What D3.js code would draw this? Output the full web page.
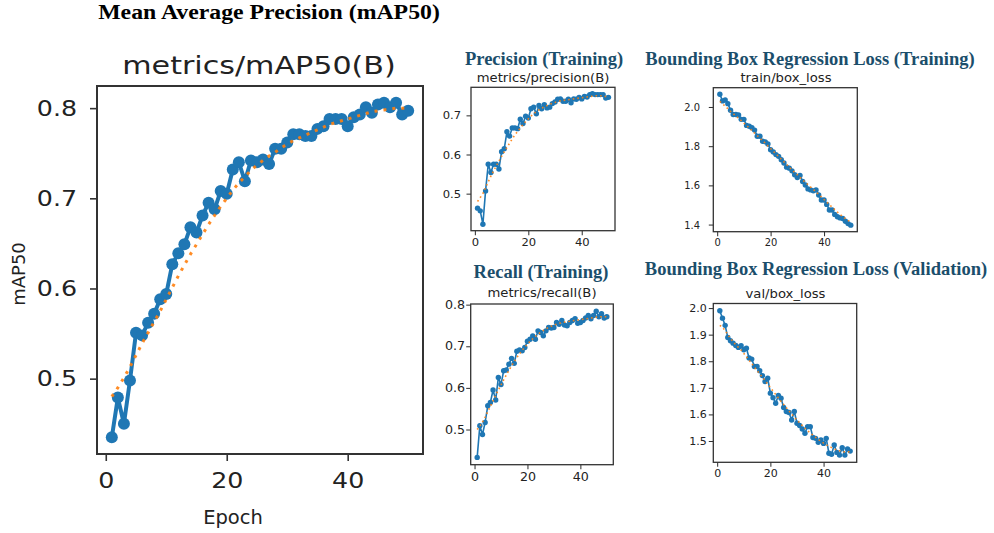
<!DOCTYPE html>
<html><head><meta charset="utf-8">
<script src="https://cdn.jsdelivr.net/npm/d3@7"></script>
<style>html,body{margin:0;padding:0;background:#fff;} svg{display:block;}</style>
</head><body>
<svg id="c" width="994" height="533"></svg>
<script>
// ---------------- DATA ----------------
const epochs = [1,2,3,4,5,6,7,8,9,10,11,12,13,14,15,16,17,18,19,20,21,22,23,24,25,26,27,28,29,30,31,32,33,34,35,36,37,38,39,40,41,42,43,44,45,46,47,48,49,50];

const mapValues = [0.435,0.479,0.450,0.498,0.551,0.548,0.562,0.572,0.588,0.594,0.627,0.639,0.649,0.668,0.662,0.681,0.695,0.688,0.708,0.705,0.732,0.740,0.719,0.742,0.740,0.743,0.738,0.755,0.755,0.762,0.771,0.771,0.769,0.769,0.777,0.780,0.788,0.788,0.788,0.780,0.790,0.793,0.801,0.795,0.804,0.806,0.801,0.806,0.793,0.797];
const mapSmooth = [0.480,0.490,0.501,0.513,0.526,0.539,0.551,0.563,0.575,0.588,0.601,0.614,0.626,0.638,0.649,0.660,0.671,0.681,0.691,0.700,0.709,0.717,0.724,0.731,0.737,0.742,0.747,0.751,0.756,0.760,0.764,0.767,0.770,0.773,0.776,0.779,0.782,0.784,0.786,0.788,0.790,0.792,0.794,0.796,0.797,0.798,0.799,0.800,0.800,0.800];

const precisionValues = [0.463,0.456,0.422,0.507,0.575,0.554,0.575,0.575,0.563,0.607,0.615,0.658,0.647,0.668,0.668,0.666,0.690,0.679,0.698,0.693,0.717,0.721,0.704,0.725,0.717,0.727,0.719,0.721,0.730,0.734,0.741,0.742,0.736,0.736,0.741,0.732,0.742,0.741,0.746,0.742,0.748,0.747,0.753,0.755,0.753,0.753,0.753,0.753,0.744,0.746];
const precisionSmooth = [0.480,0.490,0.500,0.515,0.530,0.545,0.558,0.571,0.583,0.595,0.607,0.618,0.629,0.640,0.650,0.659,0.668,0.676,0.684,0.691,0.698,0.704,0.709,0.714,0.718,0.722,0.725,0.728,0.731,0.733,0.735,0.737,0.738,0.739,0.740,0.741,0.742,0.743,0.744,0.745,0.746,0.747,0.748,0.749,0.750,0.750,0.750,0.749,0.748,0.747];

const recallValues = [0.433,0.509,0.488,0.517,0.557,0.565,0.595,0.571,0.625,0.608,0.641,0.643,0.657,0.671,0.659,0.688,0.691,0.689,0.697,0.712,0.717,0.725,0.717,0.737,0.733,0.725,0.737,0.745,0.744,0.745,0.757,0.753,0.762,0.751,0.749,0.757,0.762,0.766,0.755,0.757,0.762,0.768,0.774,0.766,0.774,0.784,0.771,0.778,0.768,0.771];
const recallSmooth = [0.500,0.508,0.518,0.530,0.543,0.556,0.569,0.582,0.595,0.607,0.619,0.631,0.642,0.653,0.663,0.673,0.682,0.690,0.698,0.705,0.712,0.718,0.724,0.729,0.734,0.738,0.742,0.745,0.748,0.751,0.753,0.755,0.757,0.758,0.759,0.760,0.761,0.762,0.763,0.764,0.765,0.766,0.767,0.768,0.769,0.770,0.771,0.771,0.771,0.771];

const trainBoxValues = [2.065,2.031,2.036,2.017,1.983,1.962,1.962,1.959,1.937,1.937,1.906,1.902,1.894,1.882,1.851,1.851,1.825,1.822,1.811,1.782,1.770,1.757,1.748,1.731,1.714,1.693,1.688,1.674,1.654,1.640,1.650,1.620,1.602,1.582,1.577,1.572,1.577,1.551,1.525,1.525,1.503,1.474,1.474,1.452,1.440,1.434,1.431,1.417,1.405,1.397];
const trainBoxSmooth = [2.028,2.017,2.004,1.991,1.978,1.966,1.954,1.942,1.930,1.918,1.906,1.893,1.880,1.867,1.854,1.841,1.828,1.815,1.801,1.788,1.774,1.760,1.747,1.733,1.720,1.706,1.692,1.679,1.666,1.654,1.641,1.628,1.615,1.603,1.591,1.579,1.567,1.554,1.541,1.528,1.515,1.502,1.489,1.476,1.464,1.452,1.441,1.430,1.421,1.414];

const valBoxValues = [1.990,1.962,1.935,1.889,1.877,1.868,1.859,1.852,1.858,1.843,1.849,1.812,1.808,1.780,1.780,1.764,1.746,1.724,1.736,1.680,1.663,1.642,1.671,1.661,1.626,1.611,1.607,1.579,1.611,1.567,1.558,1.545,1.529,1.554,1.554,1.513,1.510,1.495,1.504,1.491,1.510,1.454,1.450,1.485,1.457,1.447,1.475,1.447,1.470,1.462];
const valBoxSmooth = [1.935,1.928,1.915,1.900,1.886,1.873,1.862,1.852,1.842,1.830,1.817,1.804,1.791,1.778,1.765,1.752,1.740,1.727,1.714,1.701,1.688,1.675,1.662,1.649,1.637,1.625,1.613,1.601,1.590,1.579,1.568,1.558,1.548,1.539,1.530,1.522,1.514,1.506,1.499,1.492,1.486,1.480,1.475,1.470,1.466,1.463,1.460,1.459,1.459,1.460];

const xTickValues = [0, 20, 40];
const mapYTicks = [0.5, 0.6, 0.7, 0.8];
const precisionYTicks = [0.5, 0.6, 0.7];
const recallYTicks = [0.5, 0.6, 0.7, 0.8];
const trainBoxYTicks = [1.4, 1.6, 1.8, 2.0];
const valBoxYTicks = [1.5, 1.6, 1.7, 1.8, 1.9, 2.0];

// ---------------- DRAWING ----------------
const BLUE = '#1f77b4', ORANGE = '#ff7f0e', TEAL = '#1b4e6b';
const SANS = '"DejaVu Sans", Verdana, sans-serif';
const SERIF = '"Liberation Serif", "Times New Roman", serif';
const svg = d3.select('#c');

function stretchedText(x, y, str, o) {
  const g = svg.append('g').attr('transform', `translate(${x},${y}) scale(${o.sx || 1},1)`);
  g.append('text').text(str)
    .attr('text-anchor', o.anchor || 'middle')
    .attr('font-family', o.family || SANS)
    .attr('font-size', o.size)
    .attr('font-weight', o.weight || 'normal')
    .attr('fill', o.fill || '#222');
}

function padded(lo, hi) { const p = (hi - lo) * 0.05; return [lo - p, hi + p]; }

function drawPanel(c) {
  const x = d3.scaleLinear().domain(padded(d3.min(epochs), d3.max(epochs))).range([c.box.l, c.box.r]);
  const all = c.values.concat(c.smooth);
  const y = d3.scaleLinear().domain(padded(d3.min(all), d3.max(all))).range([c.box.b, c.box.t]);
  const g = svg.append('g');

  const ya = g.append('g').attr('transform', `translate(${c.box.l},0)`)
    .call(d3.axisLeft(y).tickValues(c.yTicks).tickSize(c.tickSize).tickFormat(d3.format('.1f')));
  const xa = g.append('g').attr('transform', `translate(0,${c.box.b})`)
    .call(d3.axisBottom(x).tickValues(xTickValues).tickSize(c.tickSize).tickFormat(d3.format('d')));
  [ya, xa].forEach(a => {
    a.select('.domain').remove();
    a.selectAll('.tick line').attr('stroke', '#333').attr('stroke-width', c.frameW * 0.8);
    a.selectAll('.tick text').attr('font-family', SANS).attr('font-size', c.tickFont)
      .attr('fill', '#222').attr('transform', `scale(${c.tickScale},1)`);
  });
  ya.selectAll('.tick text').attr('x', c.yLabelDx / c.tickScale);
  xa.selectAll('.tick text').attr('y', c.xLabelDy).attr('dy', 0);

  g.append('rect').attr('x', c.box.l).attr('y', c.box.t)
    .attr('width', c.box.r - c.box.l).attr('height', c.box.b - c.box.t)
    .attr('fill', 'none').attr('stroke', '#333').attr('stroke-width', c.frameW);

  const line = d3.line().x((d, i) => x(epochs[i])).y(d => y(d));
  g.append('path').datum(c.values).attr('d', line)
    .attr('fill', 'none').attr('stroke', BLUE).attr('stroke-width', c.lineW).attr('stroke-linejoin', 'round');
  g.selectAll('circle.pt').data(c.values).join('circle').attr('class', 'pt')
    .attr('cx', (d, i) => x(epochs[i])).attr('cy', d => y(d)).attr('r', c.markerR).attr('fill', BLUE);
  g.append('path').datum(c.smooth).attr('d', line)
    .attr('fill', 'none').attr('stroke', ORANGE).attr('stroke-width', c.dotW)
    .attr('stroke-dasharray', c.dash).attr('opacity', 0.9);

  stretchedText(c.titleX, c.titleY, c.title, { size: c.titleFont, sx: c.titleScale });
  if (c.heading) stretchedText(c.headX, c.headY, c.heading,
    { size: 18.5, family: SERIF, weight: 'bold', fill: TEAL });
}

stretchedText(269, 19, 'Mean Average Precision (mAP50)', { size: 20.5, family: SERIF, weight: 'bold', fill: '#000', sx: 1.16 });

drawPanel({
  values: mapValues, smooth: mapSmooth, yTicks: mapYTicks,
  box: { l: 97, r: 423, t: 86, b: 454 },
  tickSize: 7, tickFont: 22, tickScale: 1.15, yLabelDx: -20, xLabelDy: 33.6,
  frameW: 2, lineW: 4, markerR: 6, dotW: 3, dash: '3,6',
  title: 'metrics/mAP50(B)', titleX: 259, titleY: 74, titleFont: 24.5, titleScale: 1.23
});
stretchedText(233, 524, 'Epoch', { size: 19.5 });
svg.append('text').text('mAP50').attr('transform', 'translate(25,274) rotate(-90)')
  .attr('text-anchor', 'middle').attr('font-family', SANS).attr('font-size', 18).attr('fill', '#222');

const small = { tickSize: 4.5, frameW: 1.3, lineW: 1.6, markerR: 2.7, dotW: 1.6, dash: '1.6,3', titleFont: 12, titleScale: 1.1 };

drawPanel(Object.assign({}, small, {
  values: precisionValues, smooth: precisionSmooth, yTicks: precisionYTicks,
  box: { l: 471, r: 615, t: 87.3, b: 230.7 },
  tickFont: 11, tickScale: 1.05, yLabelDx: -10, xLabelDy: 15.1,
  title: 'metrics/precision(B)', titleX: 543, titleY: 82,
  heading: 'Precision (Training)', headX: 544, headY: 65
}));

drawPanel(Object.assign({}, small, {
  values: recallValues, smooth: recallSmooth, yTicks: recallYTicks,
  box: { l: 470.7, r: 613.3, t: 304, b: 464.7 },
  tickFont: 11.5, tickScale: 1.1, yLabelDx: -5.7, xLabelDy: 16.3,
  title: 'metrics/recall(B)', titleX: 542, titleY: 297,
  heading: 'Recall (Training)', headX: 541, headY: 278
}));

drawPanel(Object.assign({}, small, {
  values: trainBoxValues, smooth: trainBoxSmooth, yTicks: trainBoxYTicks,
  box: { l: 713.3, r: 857.3, t: 87.7, b: 231.7 },
  tickFont: 11, tickScale: 0.9, yLabelDx: -13.3, xLabelDy: 14.1,
  title: 'train/box_loss', titleX: 786, titleY: 82,
  heading: 'Bounding Box Regression Loss (Training)', headX: 810, headY: 65
}));

drawPanel(Object.assign({}, small, {
  values: valBoxValues, smooth: valBoxSmooth, yTicks: valBoxYTicks,
  box: { l: 713.3, r: 856.7, t: 303.5, b: 462.3 },
  tickFont: 11, tickScale: 1.0, yLabelDx: -6.6, xLabelDy: 15,
  title: 'val/box_loss', titleX: 785.5, titleY: 298,
  heading: 'Bounding Box Regression Loss (Validation)', headX: 816, headY: 275
}));
</script>
</body></html>
